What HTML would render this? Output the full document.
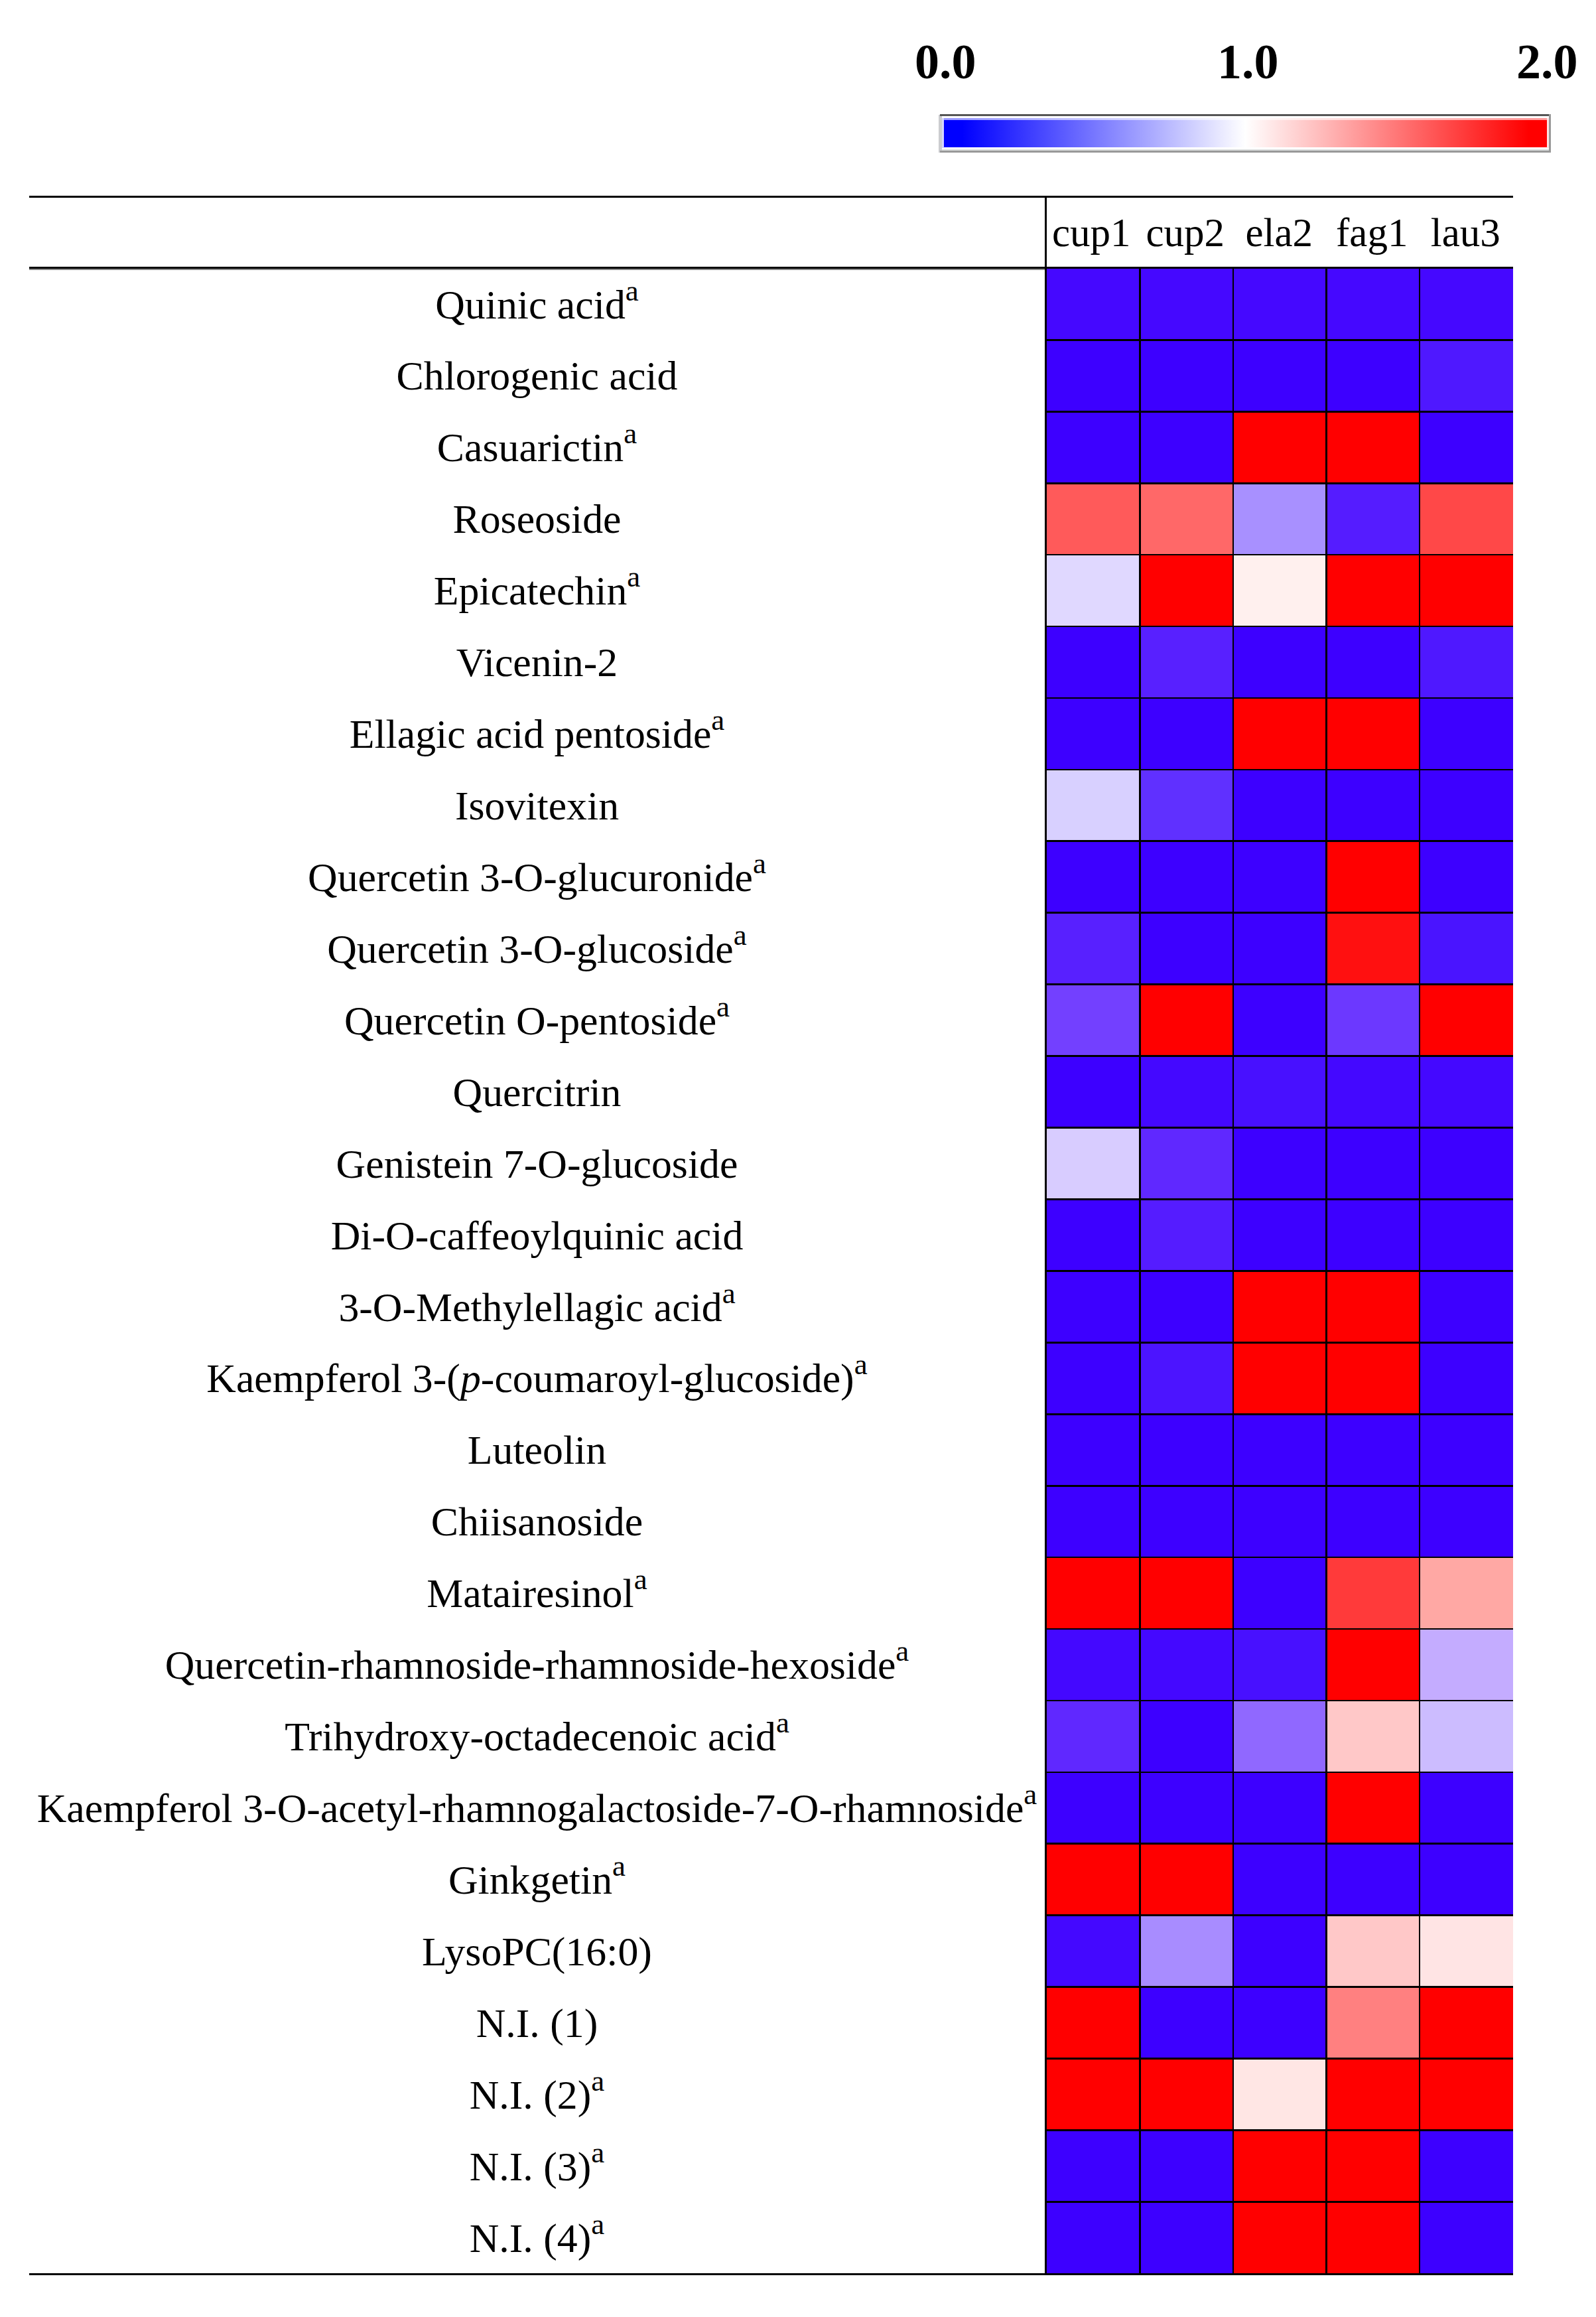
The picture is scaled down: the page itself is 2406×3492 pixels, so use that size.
<!DOCTYPE html>
<html lang="en"><head><meta charset="utf-8"><title>Heatmap</title>
<style>
html,body{margin:0;padding:0;background:#fff;}
body{width:2406px;height:3492px;position:relative;overflow:hidden;font-family:"Liberation Serif","Times New Roman",serif;color:#000;}
.abs{position:absolute;}
.lab{position:absolute;left:44px;width:1531px;text-align:center;font-size:61.8px;line-height:107.929px;height:107.929px;white-space:nowrap;}
.lab sup{font-size:45px;vertical-align:baseline;position:relative;top:-27px;line-height:0;}
.lab .t{position:relative;top:1.5px;}
.hd{position:absolute;top:299px;height:104px;line-height:104px;font-size:61px;text-align:center;white-space:nowrap;}
.sc{position:absolute;font-weight:bold;font-size:74px;line-height:74px;white-space:nowrap;}
.c{position:absolute;}
.ln{position:absolute;background:#000;}
</style></head><body>

<div class="sc" style="left:1379px;top:56px;">0.0</div>
<div class="sc" style="left:1835px;top:56px;">1.0</div>
<div class="sc" style="left:2286px;top:56px;">2.0</div>
<div class="abs" style="left:1415px;top:173px;width:5px;height:57px;background:#cbcccf;"></div>
<div class="abs" style="left:1417px;top:172px;width:918px;height:3px;background:#555;"></div>
<div class="abs" style="left:1417px;top:227px;width:921px;height:3px;background:#999;"></div>
<div class="abs" style="left:2335px;top:172px;width:3px;height:58px;background:#999;"></div>
<div class="abs" style="left:1420px;top:225px;width:915px;height:2px;background:#dcdfdf;"></div>
<div class="abs" style="left:1420px;top:178px;width:3px;height:45px;background:#d4d4ff;"></div>
<div class="abs" style="left:2332px;top:178px;width:3px;height:45px;background:#ffe4e4;"></div>
<div class="abs" style="left:1423px;top:178px;width:909px;height:44px;background:linear-gradient(to right,#0000ff 0%,#0000ff 3%,#ffffff 50%,#ff0000 97%,#ff0000 100%);"></div>
<div class="abs" style="left:1423px;top:178px;width:909px;height:3px;background:rgba(255,255,255,.6);"></div>
<div class="ln" style="left:44px;top:295px;width:2237px;height:3px;"></div>
<div class="ln" style="left:44px;top:402px;width:1534px;height:3px;"></div>
<div class="abs" style="left:44px;top:405px;width:1531px;height:2px;background:#888;"></div>
<div class="ln" style="left:44px;top:3426px;width:2237px;height:3px;"></div>
<div class="hd" style="left:1575.00px;width:140.50px;">cup1</div>
<div class="hd" style="left:1716.50px;width:140.50px;">cup2</div>
<div class="hd" style="left:1858.00px;width:140.50px;">ela2</div>
<div class="hd" style="left:1998.00px;width:140.50px;">fag1</div>
<div class="hd" style="left:2139.00px;width:140.50px;">lau3</div>
<div class="c" style="left:1578.00px;top:404.00px;width:141.00px;height:108.43px;background:#4508ff;"></div>
<div class="c" style="left:1718.50px;top:404.00px;width:141.00px;height:108.43px;background:#4508ff;"></div>
<div class="c" style="left:1859.00px;top:404.00px;width:141.00px;height:108.43px;background:#4508ff;"></div>
<div class="c" style="left:1999.50px;top:404.00px;width:141.00px;height:108.43px;background:#4508ff;"></div>
<div class="c" style="left:2140.00px;top:404.00px;width:141.00px;height:108.43px;background:#4508ff;"></div>
<div class="lab" style="top:404.00px;"><span class="t">Quinic acid<sup>a</sup></span></div>
<div class="c" style="left:1578.00px;top:511.93px;width:141.00px;height:108.43px;background:#3d00ff;"></div>
<div class="c" style="left:1718.50px;top:511.93px;width:141.00px;height:108.43px;background:#3d00ff;"></div>
<div class="c" style="left:1859.00px;top:511.93px;width:141.00px;height:108.43px;background:#3d00ff;"></div>
<div class="c" style="left:1999.50px;top:511.93px;width:141.00px;height:108.43px;background:#3d00ff;"></div>
<div class="c" style="left:2140.00px;top:511.93px;width:141.00px;height:108.43px;background:#4f18ff;"></div>
<div class="lab" style="top:511.93px;"><span class="t">Chlorogenic acid</span></div>
<div class="c" style="left:1578.00px;top:619.86px;width:141.00px;height:108.43px;background:#3d00ff;"></div>
<div class="c" style="left:1718.50px;top:619.86px;width:141.00px;height:108.43px;background:#3d00ff;"></div>
<div class="c" style="left:1859.00px;top:619.86px;width:141.00px;height:108.43px;background:#ff0000;"></div>
<div class="c" style="left:1999.50px;top:619.86px;width:141.00px;height:108.43px;background:#ff0000;"></div>
<div class="c" style="left:2140.00px;top:619.86px;width:141.00px;height:108.43px;background:#3d00ff;"></div>
<div class="lab" style="top:619.86px;"><span class="t">Casuarictin<sup>a</sup></span></div>
<div class="c" style="left:1578.00px;top:727.79px;width:141.00px;height:108.43px;background:#ff5a5a;"></div>
<div class="c" style="left:1718.50px;top:727.79px;width:141.00px;height:108.43px;background:#ff6868;"></div>
<div class="c" style="left:1859.00px;top:727.79px;width:141.00px;height:108.43px;background:#a890ff;"></div>
<div class="c" style="left:1999.50px;top:727.79px;width:141.00px;height:108.43px;background:#551cff;"></div>
<div class="c" style="left:2140.00px;top:727.79px;width:141.00px;height:108.43px;background:#ff4848;"></div>
<div class="lab" style="top:727.79px;"><span class="t">Roseoside</span></div>
<div class="c" style="left:1578.00px;top:835.71px;width:141.00px;height:108.43px;background:#e0d8ff;"></div>
<div class="c" style="left:1718.50px;top:835.71px;width:141.00px;height:108.43px;background:#ff0000;"></div>
<div class="c" style="left:1859.00px;top:835.71px;width:141.00px;height:108.43px;background:#fff0ee;"></div>
<div class="c" style="left:1999.50px;top:835.71px;width:141.00px;height:108.43px;background:#ff0000;"></div>
<div class="c" style="left:2140.00px;top:835.71px;width:141.00px;height:108.43px;background:#ff0000;"></div>
<div class="lab" style="top:835.71px;"><span class="t">Epicatechin<sup>a</sup></span></div>
<div class="c" style="left:1578.00px;top:943.64px;width:141.00px;height:108.43px;background:#3d00ff;"></div>
<div class="c" style="left:1718.50px;top:943.64px;width:141.00px;height:108.43px;background:#5820ff;"></div>
<div class="c" style="left:1859.00px;top:943.64px;width:141.00px;height:108.43px;background:#3d00ff;"></div>
<div class="c" style="left:1999.50px;top:943.64px;width:141.00px;height:108.43px;background:#3d00ff;"></div>
<div class="c" style="left:2140.00px;top:943.64px;width:141.00px;height:108.43px;background:#4f18ff;"></div>
<div class="lab" style="top:943.64px;"><span class="t">Vicenin-2</span></div>
<div class="c" style="left:1578.00px;top:1051.57px;width:141.00px;height:108.43px;background:#3d00ff;"></div>
<div class="c" style="left:1718.50px;top:1051.57px;width:141.00px;height:108.43px;background:#3d00ff;"></div>
<div class="c" style="left:1859.00px;top:1051.57px;width:141.00px;height:108.43px;background:#ff0000;"></div>
<div class="c" style="left:1999.50px;top:1051.57px;width:141.00px;height:108.43px;background:#ff0000;"></div>
<div class="c" style="left:2140.00px;top:1051.57px;width:141.00px;height:108.43px;background:#3d00ff;"></div>
<div class="lab" style="top:1051.57px;"><span class="t">Ellagic acid pentoside<sup>a</sup></span></div>
<div class="c" style="left:1578.00px;top:1159.50px;width:141.00px;height:108.43px;background:#d8d0ff;"></div>
<div class="c" style="left:1718.50px;top:1159.50px;width:141.00px;height:108.43px;background:#6030ff;"></div>
<div class="c" style="left:1859.00px;top:1159.50px;width:141.00px;height:108.43px;background:#3d00ff;"></div>
<div class="c" style="left:1999.50px;top:1159.50px;width:141.00px;height:108.43px;background:#3d00ff;"></div>
<div class="c" style="left:2140.00px;top:1159.50px;width:141.00px;height:108.43px;background:#3d00ff;"></div>
<div class="lab" style="top:1159.50px;"><span class="t">Isovitexin</span></div>
<div class="c" style="left:1578.00px;top:1267.43px;width:141.00px;height:108.43px;background:#3d00ff;"></div>
<div class="c" style="left:1718.50px;top:1267.43px;width:141.00px;height:108.43px;background:#3d00ff;"></div>
<div class="c" style="left:1859.00px;top:1267.43px;width:141.00px;height:108.43px;background:#3d00ff;"></div>
<div class="c" style="left:1999.50px;top:1267.43px;width:141.00px;height:108.43px;background:#ff0000;"></div>
<div class="c" style="left:2140.00px;top:1267.43px;width:141.00px;height:108.43px;background:#3d00ff;"></div>
<div class="lab" style="top:1267.43px;"><span class="t">Quercetin 3-O-glucuronide<sup>a</sup></span></div>
<div class="c" style="left:1578.00px;top:1375.36px;width:141.00px;height:108.43px;background:#5820ff;"></div>
<div class="c" style="left:1718.50px;top:1375.36px;width:141.00px;height:108.43px;background:#3d00ff;"></div>
<div class="c" style="left:1859.00px;top:1375.36px;width:141.00px;height:108.43px;background:#3d00ff;"></div>
<div class="c" style="left:1999.50px;top:1375.36px;width:141.00px;height:108.43px;background:#ff1010;"></div>
<div class="c" style="left:2140.00px;top:1375.36px;width:141.00px;height:108.43px;background:#4a14ff;"></div>
<div class="lab" style="top:1375.36px;"><span class="t">Quercetin 3-O-glucoside<sup>a</sup></span></div>
<div class="c" style="left:1578.00px;top:1483.29px;width:141.00px;height:108.43px;background:#7340ff;"></div>
<div class="c" style="left:1718.50px;top:1483.29px;width:141.00px;height:108.43px;background:#ff0000;"></div>
<div class="c" style="left:1859.00px;top:1483.29px;width:141.00px;height:108.43px;background:#3d00ff;"></div>
<div class="c" style="left:1999.50px;top:1483.29px;width:141.00px;height:108.43px;background:#6c38ff;"></div>
<div class="c" style="left:2140.00px;top:1483.29px;width:141.00px;height:108.43px;background:#ff0000;"></div>
<div class="lab" style="top:1483.29px;"><span class="t">Quercetin O-pentoside<sup>a</sup></span></div>
<div class="c" style="left:1578.00px;top:1591.21px;width:141.00px;height:108.43px;background:#3d00ff;"></div>
<div class="c" style="left:1718.50px;top:1591.21px;width:141.00px;height:108.43px;background:#4408ff;"></div>
<div class="c" style="left:1859.00px;top:1591.21px;width:141.00px;height:108.43px;background:#4810ff;"></div>
<div class="c" style="left:1999.50px;top:1591.21px;width:141.00px;height:108.43px;background:#4408ff;"></div>
<div class="c" style="left:2140.00px;top:1591.21px;width:141.00px;height:108.43px;background:#4408ff;"></div>
<div class="lab" style="top:1591.21px;"><span class="t">Quercitrin</span></div>
<div class="c" style="left:1578.00px;top:1699.14px;width:141.00px;height:108.43px;background:#d8ccff;"></div>
<div class="c" style="left:1718.50px;top:1699.14px;width:141.00px;height:108.43px;background:#6028ff;"></div>
<div class="c" style="left:1859.00px;top:1699.14px;width:141.00px;height:108.43px;background:#3d00ff;"></div>
<div class="c" style="left:1999.50px;top:1699.14px;width:141.00px;height:108.43px;background:#3d00ff;"></div>
<div class="c" style="left:2140.00px;top:1699.14px;width:141.00px;height:108.43px;background:#3d00ff;"></div>
<div class="lab" style="top:1699.14px;"><span class="t">Genistein 7-O-glucoside</span></div>
<div class="c" style="left:1578.00px;top:1807.07px;width:141.00px;height:108.43px;background:#3d00ff;"></div>
<div class="c" style="left:1718.50px;top:1807.07px;width:141.00px;height:108.43px;background:#551cff;"></div>
<div class="c" style="left:1859.00px;top:1807.07px;width:141.00px;height:108.43px;background:#3d00ff;"></div>
<div class="c" style="left:1999.50px;top:1807.07px;width:141.00px;height:108.43px;background:#3d00ff;"></div>
<div class="c" style="left:2140.00px;top:1807.07px;width:141.00px;height:108.43px;background:#3d00ff;"></div>
<div class="lab" style="top:1807.07px;"><span class="t">Di-O-caffeoylquinic acid</span></div>
<div class="c" style="left:1578.00px;top:1915.00px;width:141.00px;height:108.43px;background:#3d00ff;"></div>
<div class="c" style="left:1718.50px;top:1915.00px;width:141.00px;height:108.43px;background:#3d00ff;"></div>
<div class="c" style="left:1859.00px;top:1915.00px;width:141.00px;height:108.43px;background:#ff0000;"></div>
<div class="c" style="left:1999.50px;top:1915.00px;width:141.00px;height:108.43px;background:#ff0000;"></div>
<div class="c" style="left:2140.00px;top:1915.00px;width:141.00px;height:108.43px;background:#3d00ff;"></div>
<div class="lab" style="top:1915.00px;"><span class="t">3-O-Methylellagic acid<sup>a</sup></span></div>
<div class="c" style="left:1578.00px;top:2022.93px;width:141.00px;height:108.43px;background:#3d00ff;"></div>
<div class="c" style="left:1718.50px;top:2022.93px;width:141.00px;height:108.43px;background:#4c14ff;"></div>
<div class="c" style="left:1859.00px;top:2022.93px;width:141.00px;height:108.43px;background:#ff0000;"></div>
<div class="c" style="left:1999.50px;top:2022.93px;width:141.00px;height:108.43px;background:#ff0000;"></div>
<div class="c" style="left:2140.00px;top:2022.93px;width:141.00px;height:108.43px;background:#3d00ff;"></div>
<div class="lab" style="top:2022.93px;"><span class="t">Kaempferol 3-(<i>p</i>-coumaroyl-glucoside)<sup>a</sup></span></div>
<div class="c" style="left:1578.00px;top:2130.86px;width:141.00px;height:108.43px;background:#3d00ff;"></div>
<div class="c" style="left:1718.50px;top:2130.86px;width:141.00px;height:108.43px;background:#3d00ff;"></div>
<div class="c" style="left:1859.00px;top:2130.86px;width:141.00px;height:108.43px;background:#3d00ff;"></div>
<div class="c" style="left:1999.50px;top:2130.86px;width:141.00px;height:108.43px;background:#3d00ff;"></div>
<div class="c" style="left:2140.00px;top:2130.86px;width:141.00px;height:108.43px;background:#3d00ff;"></div>
<div class="lab" style="top:2130.86px;"><span class="t">Luteolin</span></div>
<div class="c" style="left:1578.00px;top:2238.79px;width:141.00px;height:108.43px;background:#3d00ff;"></div>
<div class="c" style="left:1718.50px;top:2238.79px;width:141.00px;height:108.43px;background:#3d00ff;"></div>
<div class="c" style="left:1859.00px;top:2238.79px;width:141.00px;height:108.43px;background:#3d00ff;"></div>
<div class="c" style="left:1999.50px;top:2238.79px;width:141.00px;height:108.43px;background:#3d00ff;"></div>
<div class="c" style="left:2140.00px;top:2238.79px;width:141.00px;height:108.43px;background:#3d00ff;"></div>
<div class="lab" style="top:2238.79px;"><span class="t">Chiisanoside</span></div>
<div class="c" style="left:1578.00px;top:2346.71px;width:141.00px;height:108.43px;background:#ff0000;"></div>
<div class="c" style="left:1718.50px;top:2346.71px;width:141.00px;height:108.43px;background:#ff0000;"></div>
<div class="c" style="left:1859.00px;top:2346.71px;width:141.00px;height:108.43px;background:#3d00ff;"></div>
<div class="c" style="left:1999.50px;top:2346.71px;width:141.00px;height:108.43px;background:#ff3a3a;"></div>
<div class="c" style="left:2140.00px;top:2346.71px;width:141.00px;height:108.43px;background:#ffa8a4;"></div>
<div class="lab" style="top:2346.71px;"><span class="t">Matairesinol<sup>a</sup></span></div>
<div class="c" style="left:1578.00px;top:2454.64px;width:141.00px;height:108.43px;background:#4408ff;"></div>
<div class="c" style="left:1718.50px;top:2454.64px;width:141.00px;height:108.43px;background:#4408ff;"></div>
<div class="c" style="left:1859.00px;top:2454.64px;width:141.00px;height:108.43px;background:#4810ff;"></div>
<div class="c" style="left:1999.50px;top:2454.64px;width:141.00px;height:108.43px;background:#ff0000;"></div>
<div class="c" style="left:2140.00px;top:2454.64px;width:141.00px;height:108.43px;background:#c4acff;"></div>
<div class="lab" style="top:2454.64px;"><span class="t">Quercetin-rhamnoside-rhamnoside-hexoside<sup>a</sup></span></div>
<div class="c" style="left:1578.00px;top:2562.57px;width:141.00px;height:108.43px;background:#6028ff;"></div>
<div class="c" style="left:1718.50px;top:2562.57px;width:141.00px;height:108.43px;background:#3d00ff;"></div>
<div class="c" style="left:1859.00px;top:2562.57px;width:141.00px;height:108.43px;background:#9068ff;"></div>
<div class="c" style="left:1999.50px;top:2562.57px;width:141.00px;height:108.43px;background:#ffc8c8;"></div>
<div class="c" style="left:2140.00px;top:2562.57px;width:141.00px;height:108.43px;background:#ccbcff;"></div>
<div class="lab" style="top:2562.57px;"><span class="t">Trihydroxy-octadecenoic acid<sup>a</sup></span></div>
<div class="c" style="left:1578.00px;top:2670.50px;width:141.00px;height:108.43px;background:#3d00ff;"></div>
<div class="c" style="left:1718.50px;top:2670.50px;width:141.00px;height:108.43px;background:#3d00ff;"></div>
<div class="c" style="left:1859.00px;top:2670.50px;width:141.00px;height:108.43px;background:#3d00ff;"></div>
<div class="c" style="left:1999.50px;top:2670.50px;width:141.00px;height:108.43px;background:#ff0000;"></div>
<div class="c" style="left:2140.00px;top:2670.50px;width:141.00px;height:108.43px;background:#3d00ff;"></div>
<div class="lab" style="top:2670.50px;"><span class="t">Kaempferol 3-O-acetyl-rhamnogalactoside-7-O-rhamnoside<sup>a</sup></span></div>
<div class="c" style="left:1578.00px;top:2778.43px;width:141.00px;height:108.43px;background:#ff0000;"></div>
<div class="c" style="left:1718.50px;top:2778.43px;width:141.00px;height:108.43px;background:#ff0000;"></div>
<div class="c" style="left:1859.00px;top:2778.43px;width:141.00px;height:108.43px;background:#3d00ff;"></div>
<div class="c" style="left:1999.50px;top:2778.43px;width:141.00px;height:108.43px;background:#3d00ff;"></div>
<div class="c" style="left:2140.00px;top:2778.43px;width:141.00px;height:108.43px;background:#3d00ff;"></div>
<div class="lab" style="top:2778.43px;"><span class="t">Ginkgetin<sup>a</sup></span></div>
<div class="c" style="left:1578.00px;top:2886.36px;width:141.00px;height:108.43px;background:#4408ff;"></div>
<div class="c" style="left:1718.50px;top:2886.36px;width:141.00px;height:108.43px;background:#a88cff;"></div>
<div class="c" style="left:1859.00px;top:2886.36px;width:141.00px;height:108.43px;background:#3d00ff;"></div>
<div class="c" style="left:1999.50px;top:2886.36px;width:141.00px;height:108.43px;background:#ffc8c8;"></div>
<div class="c" style="left:2140.00px;top:2886.36px;width:141.00px;height:108.43px;background:#ffe4e4;"></div>
<div class="lab" style="top:2886.36px;"><span class="t">LysoPC(16:0)</span></div>
<div class="c" style="left:1578.00px;top:2994.29px;width:141.00px;height:108.43px;background:#ff0000;"></div>
<div class="c" style="left:1718.50px;top:2994.29px;width:141.00px;height:108.43px;background:#3d00ff;"></div>
<div class="c" style="left:1859.00px;top:2994.29px;width:141.00px;height:108.43px;background:#3d00ff;"></div>
<div class="c" style="left:1999.50px;top:2994.29px;width:141.00px;height:108.43px;background:#ff8080;"></div>
<div class="c" style="left:2140.00px;top:2994.29px;width:141.00px;height:108.43px;background:#ff0000;"></div>
<div class="lab" style="top:2994.29px;"><span class="t">N.I. (1)</span></div>
<div class="c" style="left:1578.00px;top:3102.21px;width:141.00px;height:108.43px;background:#ff0000;"></div>
<div class="c" style="left:1718.50px;top:3102.21px;width:141.00px;height:108.43px;background:#ff0000;"></div>
<div class="c" style="left:1859.00px;top:3102.21px;width:141.00px;height:108.43px;background:#ffe6e4;"></div>
<div class="c" style="left:1999.50px;top:3102.21px;width:141.00px;height:108.43px;background:#ff0000;"></div>
<div class="c" style="left:2140.00px;top:3102.21px;width:141.00px;height:108.43px;background:#ff0000;"></div>
<div class="lab" style="top:3102.21px;"><span class="t">N.I. (2)<sup>a</sup></span></div>
<div class="c" style="left:1578.00px;top:3210.14px;width:141.00px;height:108.43px;background:#3d00ff;"></div>
<div class="c" style="left:1718.50px;top:3210.14px;width:141.00px;height:108.43px;background:#3d00ff;"></div>
<div class="c" style="left:1859.00px;top:3210.14px;width:141.00px;height:108.43px;background:#ff0000;"></div>
<div class="c" style="left:1999.50px;top:3210.14px;width:141.00px;height:108.43px;background:#ff0000;"></div>
<div class="c" style="left:2140.00px;top:3210.14px;width:141.00px;height:108.43px;background:#3d00ff;"></div>
<div class="lab" style="top:3210.14px;"><span class="t">N.I. (3)<sup>a</sup></span></div>
<div class="c" style="left:1578.00px;top:3318.07px;width:141.00px;height:108.43px;background:#3d00ff;"></div>
<div class="c" style="left:1718.50px;top:3318.07px;width:141.00px;height:108.43px;background:#3d00ff;"></div>
<div class="c" style="left:1859.00px;top:3318.07px;width:141.00px;height:108.43px;background:#ff0000;"></div>
<div class="c" style="left:1999.50px;top:3318.07px;width:141.00px;height:108.43px;background:#ff0000;"></div>
<div class="c" style="left:2140.00px;top:3318.07px;width:141.00px;height:108.43px;background:#3d00ff;"></div>
<div class="lab" style="top:3318.07px;"><span class="t">N.I. (4)<sup>a</sup></span></div>
<div class="ln" style="left:1575px;top:295px;width:3px;height:3134px;"></div>
<div class="ln" style="left:1717.00px;top:404px;width:2.5px;height:3022px;"></div>
<div class="ln" style="left:1857.50px;top:404px;width:2.5px;height:3022px;"></div>
<div class="ln" style="left:1998.00px;top:404px;width:2.5px;height:3022px;"></div>
<div class="ln" style="left:2138.50px;top:404px;width:2.5px;height:3022px;"></div>
<div class="ln" style="left:1578px;top:402px;width:702.5px;height:2.5px;"></div>
<div class="ln" style="left:1578px;top:510.93px;width:702.5px;height:2.75px;"></div>
<div class="ln" style="left:1578px;top:618.86px;width:702.5px;height:2.75px;"></div>
<div class="ln" style="left:1578px;top:726.79px;width:702.5px;height:2.75px;"></div>
<div class="ln" style="left:1578px;top:834.71px;width:702.5px;height:2.75px;"></div>
<div class="ln" style="left:1578px;top:942.64px;width:702.5px;height:2.75px;"></div>
<div class="ln" style="left:1578px;top:1050.57px;width:702.5px;height:2.75px;"></div>
<div class="ln" style="left:1578px;top:1158.50px;width:702.5px;height:2.75px;"></div>
<div class="ln" style="left:1578px;top:1266.43px;width:702.5px;height:2.75px;"></div>
<div class="ln" style="left:1578px;top:1374.36px;width:702.5px;height:2.75px;"></div>
<div class="ln" style="left:1578px;top:1482.29px;width:702.5px;height:2.75px;"></div>
<div class="ln" style="left:1578px;top:1590.21px;width:702.5px;height:2.75px;"></div>
<div class="ln" style="left:1578px;top:1698.14px;width:702.5px;height:2.75px;"></div>
<div class="ln" style="left:1578px;top:1806.07px;width:702.5px;height:2.75px;"></div>
<div class="ln" style="left:1578px;top:1914.00px;width:702.5px;height:2.75px;"></div>
<div class="ln" style="left:1578px;top:2021.93px;width:702.5px;height:2.75px;"></div>
<div class="ln" style="left:1578px;top:2129.86px;width:702.5px;height:2.75px;"></div>
<div class="ln" style="left:1578px;top:2237.79px;width:702.5px;height:2.75px;"></div>
<div class="ln" style="left:1578px;top:2345.71px;width:702.5px;height:2.75px;"></div>
<div class="ln" style="left:1578px;top:2453.64px;width:702.5px;height:2.75px;"></div>
<div class="ln" style="left:1578px;top:2561.57px;width:702.5px;height:2.75px;"></div>
<div class="ln" style="left:1578px;top:2669.50px;width:702.5px;height:2.75px;"></div>
<div class="ln" style="left:1578px;top:2777.43px;width:702.5px;height:2.75px;"></div>
<div class="ln" style="left:1578px;top:2885.36px;width:702.5px;height:2.75px;"></div>
<div class="ln" style="left:1578px;top:2993.29px;width:702.5px;height:2.75px;"></div>
<div class="ln" style="left:1578px;top:3101.21px;width:702.5px;height:2.75px;"></div>
<div class="ln" style="left:1578px;top:3209.14px;width:702.5px;height:2.75px;"></div>
<div class="ln" style="left:1578px;top:3317.07px;width:702.5px;height:2.75px;"></div>
</body></html>
